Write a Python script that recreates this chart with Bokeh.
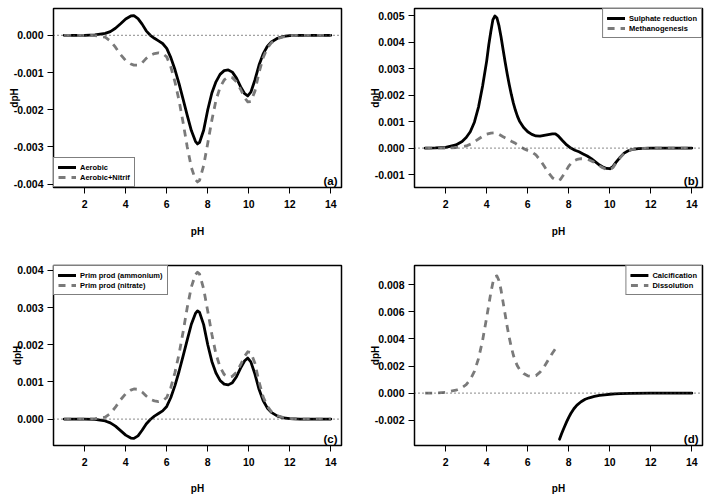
from bokeh.plotting import figure
from bokeh.models import Range1d, FixedTicker, PrintfTickFormatter, Span, Label, Legend, LegendItem
from bokeh.layouts import gridplot
from bokeh.embed import file_html
from bokeh.resources import INLINE

# ---------------- data ----------------
X_TICKS = [2, 4, 6, 8, 10, 12, 14]

# panel (a) and (c) pH grid
PH_AC = [1.0, 1.5, 2.0, 2.5, 3.0, 3.25, 3.5, 3.75, 4.0, 4.25, 4.4, 4.6, 4.8, 5.0, 5.2, 5.4,
         5.6, 5.8, 6.0, 6.2, 6.4, 6.6, 6.8, 7.0, 7.2, 7.4, 7.5, 7.6, 7.8, 8.0, 8.2, 8.4,
         8.6, 8.8, 9.0, 9.2, 9.4, 9.6, 9.8, 9.95, 10.1, 10.3, 10.5, 10.7, 10.9, 11.1, 11.4,
         11.7, 12.0, 12.5, 13.0, 14.0]
AEROBIC = [0, 0, 0, 0.00001, 0.00005, 0.00010, 0.00019, 0.00031, 0.00044, 0.00052, 0.00053,
           0.00045, 0.00030, 0.00012, 0.0, -0.00008, -0.00015, -0.00022, -0.00035, -0.00060,
           -0.00092, -0.00130, -0.00172, -0.00215, -0.00256, -0.00285, -0.00292, -0.00288,
           -0.00255, -0.00200, -0.00155, -0.00125, -0.00105, -0.00095, -0.00093, -0.00099,
           -0.00115, -0.00138, -0.00157, -0.00163, -0.00153, -0.00120, -0.00080, -0.00050,
           -0.00030, -0.00018, -0.00008, -0.00003, -0.00001, 0, 0, 0]
AEROBIC_NITRIF = [0, 0, 0, -0.00001, -0.00005, -0.00015, -0.00032, -0.00052, -0.00068, -0.00077,
                  -0.00080, -0.00080, -0.00074, -0.00062, -0.00054, -0.00049, -0.00047, -0.00049,
                  -0.00058, -0.00085, -0.00125, -0.00175, -0.00235, -0.00300, -0.00355, -0.00388,
                  -0.00394, -0.00390, -0.00350, -0.00290, -0.00228, -0.00175, -0.00140, -0.00120,
                  -0.00112, -0.00114, -0.00125, -0.00145, -0.00168, -0.00179, -0.00178, -0.00150,
                  -0.00100, -0.00060, -0.00035, -0.00020, -0.00009, -0.00004, -0.00001, 0, 0, 0]
PRIM_AMMONIUM = [0, 0, 0, -0.00001, -0.00005, -0.00010, -0.00019, -0.00031, -0.00043, -0.00051,
                 -0.00052, -0.00045, -0.00030, -0.00013, -0.00001, 0.00008, 0.00015, 0.00022,
                 0.00034, 0.00058, 0.00090, 0.00128, 0.00170, 0.00213, 0.00255, 0.00284, 0.00291,
                 0.00287, 0.00254, 0.00200, 0.00155, 0.00124, 0.00104, 0.00094, 0.00092, 0.00098,
                 0.00114, 0.00137, 0.00157, 0.00164, 0.00154, 0.00121, 0.00080, 0.00050, 0.00030,
                 0.00018, 0.00008, 0.00003, 0.00001, 0, 0, 0]
PRIM_NITRATE = [0, 0, 0, 0.00001, 0.00005, 0.00015, 0.00032, 0.00052, 0.00068, 0.00078, 0.00081,
                0.00080, 0.00073, 0.00062, 0.00053, 0.00049, 0.00047, 0.00049, 0.00058, 0.00085,
                0.00125, 0.00175, 0.00235, 0.00300, 0.00355, 0.00389, 0.00395, 0.00390, 0.00350,
                0.00290, 0.00228, 0.00175, 0.00140, 0.00120, 0.00113, 0.00115, 0.00126, 0.00146,
                0.00169, 0.00181, 0.00179, 0.00150, 0.00100, 0.00060, 0.00035, 0.00020, 0.00009,
                0.00004, 0.00001, 0, 0, 0]

# panel (b)
PH_SULPH = [1.0, 1.5, 2.0, 2.5, 2.8, 3.0, 3.2, 3.4, 3.6, 3.8, 4.0, 4.1, 4.2, 4.3, 4.4, 4.5, 4.6,
            4.7, 4.8, 4.9, 5.0, 5.1, 5.2, 5.3, 5.4, 5.5, 5.6, 5.8, 6.0, 6.2, 6.4, 6.6, 6.8, 7.0,
            7.2, 7.35, 7.5, 7.7, 7.9, 8.1, 8.3, 8.5, 8.7, 8.9, 9.1, 9.3, 9.5, 9.7, 9.85, 10.0,
            10.15, 10.3, 10.5, 10.7, 10.9, 11.1, 11.4, 12.0, 13.0, 14.0]
SULPHATE = [0, 0.00001, 0.00003, 0.00012, 0.00025, 0.00040, 0.00062, 0.00098, 0.00155, 0.00235,
            0.00330, 0.00390, 0.00440, 0.00485, 0.00500, 0.00492, 0.00462, 0.00420, 0.00372,
            0.00325, 0.00280, 0.00240, 0.00203, 0.00170, 0.00143, 0.00120, 0.00102, 0.00078,
            0.00062, 0.00052, 0.00046, 0.00045, 0.00048, 0.00051, 0.00054, 0.00054, 0.00045,
            0.00028, 0.00012, 0.0, -0.00008, -0.00014, -0.00022, -0.00030, -0.00040, -0.00052,
            -0.00064, -0.00073, -0.00077, -0.00078, -0.00070, -0.00054, -0.00035, -0.00019,
            -0.00010, -0.00005, -0.00002, 0, 0, 0]
PH_METH = [1.0, 2.0, 2.5, 3.0, 3.25, 3.5, 3.75, 4.0, 4.2, 4.4, 4.6, 4.8, 5.0, 5.2, 5.4, 5.6, 5.8,
           6.0, 6.2, 6.4, 6.6, 6.8, 7.0, 7.2, 7.4, 7.5, 7.6, 7.8, 8.0, 8.2, 8.4, 8.6, 8.8, 9.0,
           9.2, 9.4, 9.6, 9.8, 10.0, 10.15, 10.3, 10.5, 10.7, 10.9, 11.1, 11.4, 12.0, 13.0, 14.0]
METHANO = [0, 0, 0.00002, 0.00008, 0.00016, 0.00029, 0.00042, 0.00053, 0.00057, 0.00058, 0.00052,
           0.00043, 0.00035, 0.00026, 0.00018, 0.00008, -0.00002, -0.00009, -0.00015, -0.00026,
           -0.00045, -0.00068, -0.00092, -0.00112, -0.00122, -0.00123, -0.00118, -0.00095,
           -0.00068, -0.00050, -0.00043, -0.00040, -0.00041, -0.00045, -0.00052, -0.00062,
           -0.00072, -0.00079, -0.00082, -0.00074, -0.00057, -0.00037, -0.00020, -0.00010,
           -0.00005, -0.00002, 0, 0, 0]

# panel (d)
PH_DISS = [1.0, 1.5, 2.0, 2.5, 2.75, 3.0, 3.2, 3.4, 3.6, 3.8, 4.0, 4.1, 4.2, 4.3, 4.4, 4.5, 4.6,
           4.7, 4.8, 4.9, 5.0, 5.1, 5.2, 5.3, 5.4, 5.5, 5.6, 5.8, 6.0, 6.2, 6.4, 6.6, 6.8, 7.0,
           7.2, 7.4]
DISSOLUTION = [0, 0.00001, 0.00006, 0.00022, 0.00036, 0.00063, 0.00100, 0.00160, 0.00255, 0.00390,
               0.00560, 0.00650, 0.00740, 0.00815, 0.00860, 0.00865, 0.00830, 0.00760, 0.00670,
               0.00580, 0.00490, 0.00410, 0.00340, 0.00280, 0.00235, 0.00200, 0.00175, 0.00145,
               0.00128, 0.00123, 0.00130, 0.00155, 0.00195, 0.00245, 0.00295, 0.00338]
PH_CALC = [7.55, 7.65, 7.75, 7.9, 8.0, 8.1, 8.25, 8.4, 8.6, 8.8, 9.0, 9.25, 9.5, 9.75, 10.0, 10.25,
           10.5, 11.0, 12.0, 13.0, 14.0]
CALCIFICATION = [-0.00340, -0.00300, -0.00262, -0.00210, -0.00178, -0.00150, -0.00115, -0.00088,
                 -0.00063, -0.00045, -0.00034, -0.00024, -0.00017, -0.00012, -0.00008, -0.00005,
                 -0.00003, -0.00001, 0, 0, 0]

YTICKS_A = [-0.004, -0.003, -0.002, -0.001, 0.0]
YTICKS_B = [-0.001, 0.0, 0.001, 0.002, 0.003, 0.004, 0.005]
YTICKS_C = [0.0, 0.001, 0.002, 0.003, 0.004]
YTICKS_D = [-0.002, 0.0, 0.002, 0.004, 0.006, 0.008]

FONT = "Liberation Sans"
GRAY = "#7a7a7a"
XLO, XHI = 0.48, 14.52


def panel(width, height, b_right, b_top, b_bottom, ylo, yhi, yticks, xl_standoff):
    p = figure(width=width, height=height, x_range=Range1d(XLO, XHI), y_range=Range1d(ylo, yhi),
               output_backend="svg", toolbar_location=None, tools="",
               min_border_left=53, min_border_right=b_right, min_border_top=b_top,
               min_border_bottom=b_bottom, x_axis_label="pH", y_axis_label="dpH")
    p.xgrid.visible = False
    p.ygrid.visible = False
    p.outline_line_color = "black"
    p.outline_line_width = 1.5
    p.outline_line_alpha = 1.0
    p.background_fill_color = "white"
    p.border_fill_color = "white"
    for ax in (p.xaxis[0], p.yaxis[0]):
        ax.axis_line_color = None
        ax.major_tick_out = 6
        ax.major_tick_in = 0
        ax.major_tick_line_color = "black"
        ax.major_tick_line_width = 1
        ax.minor_tick_line_color = None
        ax.major_label_text_font = FONT
        ax.major_label_text_font_size = "10.5px"
        ax.major_label_text_font_style = "bold"
        ax.major_label_text_color = "black"
        ax.axis_label_text_font = FONT
        ax.axis_label_text_font_size = "10px"
        ax.axis_label_text_font_style = "bold"
        ax.axis_label_text_color = "black"
    p.xaxis.ticker = FixedTicker(ticks=X_TICKS)
    p.yaxis.ticker = FixedTicker(ticks=yticks)
    p.yaxis.formatter = PrintfTickFormatter(format="%.3f")
    p.xaxis.major_label_standoff = 6
    p.yaxis.major_label_standoff = 4
    p.xaxis.axis_label_standoff = xl_standoff
    p.yaxis.axis_label_standoff = -9
    return p


def finish(p, x1, y1, x2, y2, labels, loc, tag, ylo):
    r1 = p.line(x1, y1, line_color="black", line_width=2.8, line_cap="round", line_join="round")
    r2 = p.line(x2, y2, line_color=GRAY, line_width=2.8, line_dash="7 6", line_cap="butt",
                line_join="round")
    p.add_layout(Span(location=0, dimension="width", line_color="#444444",
                      line_dash="1 3", line_width=1.3))
    leg = Legend(items=[LegendItem(label=labels[0], renderers=[r1]),
                        LegendItem(label=labels[1], renderers=[r2])],
                 location=loc, margin=0, padding=4, spacing=0,
                 glyph_width=18, glyph_height=10, label_height=10, label_standoff=4,
                 label_text_font=FONT, label_text_font_size="7.5px",
                 label_text_font_style="bold", label_text_color="black",
                 border_line_color="black", border_line_width=1,
                 background_fill_color="white", background_fill_alpha=1.0)
    p.add_layout(leg)
    p.add_layout(Label(x=XHI, y=ylo, x_offset=-4, y_offset=1, text=tag, text_align="right",
                       text_baseline="bottom", text_font=FONT, text_font_size="11.5px",
                       text_font_style="bold", text_color="black"))


# row 1: 8 + 179 + 62 = 249 ; row 2: 16 + 180 + 52 = 248
pa = panel(361, 249, 20, 8, 62, -0.00409, 0.00072, YTICKS_A, 15)
finish(pa, PH_AC, AEROBIC, PH_AC, AEROBIC_NITRIF, ["Aerobic", "Aerobic+Nitrif"],
       "bottom_left", "(a)", -0.00409)

pb = panel(346, 249, 5, 8, 62, -0.00149, 0.00528, YTICKS_B, 15)
finish(pb, PH_SULPH, SULPHATE, PH_METH, METHANO, ["Sulphate reduction", "Methanogenesis"],
       "top_right", "(b)", -0.00149)

pc = panel(361, 248, 20, 16, 52, -0.00071, 0.00413, YTICKS_C, 14)
finish(pc, PH_AC, PRIM_AMMONIUM, PH_AC, PRIM_NITRATE,
       ["Prim prod (ammonium)", "Prim prod (nitrate)"], "top_left", "(c)", -0.00071)

pd_ = panel(346, 248, 5, 16, 52, -0.00386, 0.00942, YTICKS_D, 14)
finish(pd_, PH_CALC, CALCIFICATION, PH_DISS, DISSOLUTION, ["Calcification", "Dissolution"],
       "top_right", "(d)", -0.00386)

grid = gridplot([[pa, pb], [pc, pd_]], toolbar_location=None)

open("out.html", "w").write(file_html(grid, INLINE))
